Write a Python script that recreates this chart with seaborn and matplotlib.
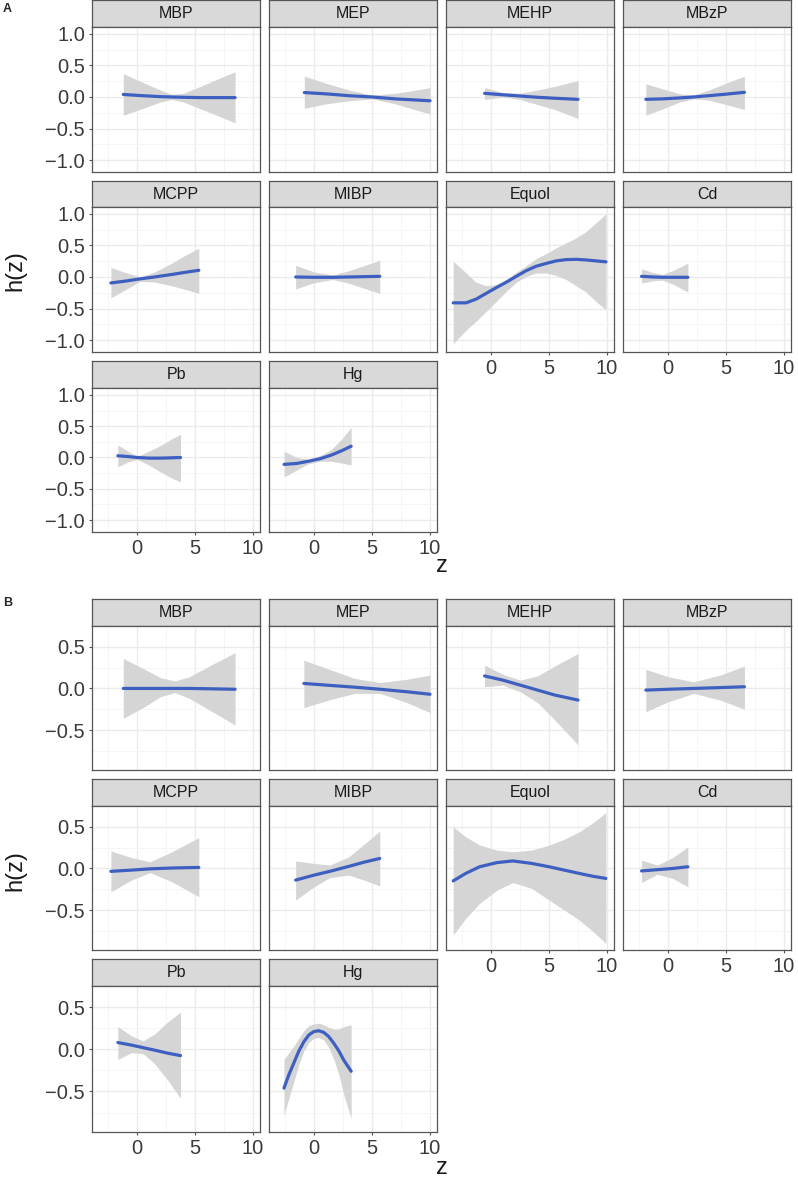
import numpy as np
import pandas as pd
import matplotlib
matplotlib.use("Agg")
import matplotlib.pyplot as plt
import seaborn as sns

# facet names, same order in both panels
exposures = ["MBP", "MEP", "MEHP", "MBzP", "MCPP", "MIBP", "Equol", "Cd", "Pb", "Hg"]
x_ticks = [0, 5, 10]
a_y_ticks = [-1.0, -0.5, 0.0, 0.5, 1.0]
b_y_ticks = [-0.5, 0.0, 0.5]

# ---- panel A : z, h(z), lower and upper limit ----
A_MBP_z = [-1.2, 0.5, 2, 3, 4, 5.5, 7, 8.45]
A_MBP_h = [0.04, 0.02, 0.005, 0.0, -0.005, -0.01, -0.01, -0.01]
A_MBP_lo = [-0.29, -0.18, -0.08, -0.04, -0.08, -0.19, -0.30, -0.41]
A_MBP_hi = [0.37, 0.23, 0.11, 0.04, 0.06, 0.17, 0.29, 0.40]

A_MEP_z = [-0.85, 1, 3, 5, 7, 8.5, 10]
A_MEP_h = [0.07, 0.05, 0.02, 0.0, -0.03, -0.045, -0.06]
A_MEP_lo = [-0.18, -0.11, -0.06, -0.03, -0.11, -0.19, -0.27]
A_MEP_hi = [0.33, 0.22, 0.11, 0.03, 0.06, 0.10, 0.15]

A_MEHP_z = [-0.57, 1, 2.5, 4, 5.5, 7.5]
A_MEHP_h = [0.058, 0.035, 0.015, -0.005, -0.02, -0.037]
A_MEHP_lo = [-0.04, 0.0, -0.04, -0.12, -0.20, -0.34]
A_MEHP_hi = [0.15, 0.07, 0.06, 0.11, 0.17, 0.26]

A_MBzP_z = [-1.93, -0.5, 1, 2.2, 3.5, 5, 6.58]
A_MBzP_h = [-0.037, -0.03, -0.015, 0.0, 0.02, 0.045, 0.074]
A_MBzP_lo = [-0.29, -0.19, -0.08, -0.03, -0.05, -0.12, -0.20]
A_MBzP_hi = [0.21, 0.13, 0.05, 0.03, 0.11, 0.22, 0.33]

A_MCPP_z = [-2.27, -1, 0.25, 1.5, 3, 4, 5.32]
A_MCPP_h = [-0.095, -0.065, -0.03, 0.0, 0.04, 0.07, 0.106]
A_MCPP_lo = [-0.33, -0.20, -0.07, -0.08, -0.14, -0.19, -0.26]
A_MCPP_hi = [0.15, 0.07, 0.0, 0.08, 0.22, 0.33, 0.455]

A_MIBP_z = [-1.6, 0, 1.6, 3, 4.3, 5.66]
A_MIBP_h = [0.0, -0.005, -0.005, 0.0, 0.005, 0.01]
A_MIBP_lo = [-0.19, -0.09, -0.04, -0.10, -0.18, -0.26]
A_MIBP_hi = [0.185, 0.08, 0.03, 0.10, 0.18, 0.265]

A_Equol_z = [-3.28, -2.16, -1.29, -0.43, 0.43, 1.29, 2.16, 3.02, 3.88, 4.74,
             5.60, 6.47, 7.33, 8.19, 9.05, 9.91]
A_Equol_h = [-0.41, -0.41, -0.35, -0.26, -0.17, -0.085, 0.01, 0.10, 0.17, 0.215,
             0.255, 0.275, 0.28, 0.27, 0.255, 0.24]
A_Equol_lo = [-1.06, -0.84, -0.70, -0.545, -0.39, -0.23, -0.085, 0.01, 0.063, 0.063,
              0.026, -0.04, -0.14, -0.24, -0.39, -0.52]
A_Equol_hi = [0.25, 0.063, -0.085, -0.14, -0.12, -0.04, 0.074, 0.18, 0.29, 0.37,
              0.46, 0.54, 0.62, 0.72, 0.86, 1.0]

A_Cd_z = [-2.3, -1.3, -0.5, 0.5, 1.7]
A_Cd_h = [0.01, 0.0, -0.005, -0.005, -0.005]
A_Cd_lo = [-0.095, -0.06, -0.05, -0.12, -0.24]
A_Cd_hi = [0.13, 0.07, 0.04, 0.11, 0.22]

A_Pb_z = [-1.67, -0.8, 0, 1, 2, 3, 3.74]
A_Pb_h = [0.027, 0.015, 0.0, -0.01, -0.01, -0.005, 0.0]
A_Pb_lo = [-0.15, -0.07, -0.03, -0.12, -0.23, -0.33, -0.39]
A_Pb_hi = [0.20, 0.10, 0.02, 0.10, 0.19, 0.30, 0.37]

A_Hg_z = [-2.6, -1.5, -0.5, 0.5, 1.5, 2.4, 3.19]
A_Hg_h = [-0.11, -0.095, -0.06, -0.02, 0.04, 0.11, 0.18]
A_Hg_lo = [-0.31, -0.20, -0.10, -0.06, -0.06, -0.09, -0.12]
A_Hg_hi = [0.10, 0.0, -0.03, 0.03, 0.13, 0.30, 0.48]

# ---- panel B ----
B_MBP_z = [-1.2, 0.5, 2, 3.25, 4.5, 6.5, 8.45]
B_MBP_h = [0.0, 0.0, 0.0, 0.0, 0.0, -0.005, -0.01]
B_MBP_lo = [-0.36, -0.23, -0.10, -0.05, -0.12, -0.28, -0.44]
B_MBP_hi = [0.36, 0.24, 0.13, 0.09, 0.14, 0.29, 0.43]

B_MEP_z = [-0.89, 1.5, 3.5, 5.7, 8, 10]
B_MEP_h = [0.06, 0.035, 0.015, -0.01, -0.04, -0.07]
B_MEP_lo = [-0.23, -0.13, -0.06, -0.06, -0.17, -0.29]
B_MEP_hi = [0.34, 0.22, 0.12, 0.07, 0.11, 0.16]

B_MEHP_z = [-0.57, 1, 2.5, 4, 5.5, 7.5]
B_MEHP_h = [0.15, 0.10, 0.04, -0.02, -0.08, -0.14]
B_MEHP_lo = [0.02, 0.04, -0.04, -0.17, -0.38, -0.68]
B_MEHP_hi = [0.28, 0.17, 0.10, 0.15, 0.27, 0.42]

B_MBzP_z = [-1.93, 0, 2.2, 4.5, 6.58]
B_MBzP_h = [-0.02, -0.01, 0.0, 0.01, 0.02]
B_MBzP_lo = [-0.28, -0.16, -0.06, -0.14, -0.25]
B_MBzP_hi = [0.23, 0.14, 0.08, 0.16, 0.27]

B_MCPP_z = [-2.27, -0.5, 1.1, 3, 5.32]
B_MCPP_h = [-0.035, -0.02, -0.005, 0.005, 0.012]
B_MCPP_lo = [-0.28, -0.14, -0.05, -0.16, -0.34]
B_MCPP_hi = [0.21, 0.13, 0.08, 0.20, 0.37]

B_MIBP_z = [-1.6, 0, 1.35, 3, 4.3, 5.66]
B_MIBP_h = [-0.14, -0.08, -0.035, 0.025, 0.075, 0.12]
B_MIBP_lo = [-0.38, -0.22, -0.11, -0.08, -0.14, -0.21]
B_MIBP_hi = [0.09, 0.06, 0.04, 0.14, 0.29, 0.45]

B_Equol_z = [-3.28, -2.2, -1, 0.5, 1.87, 3.5, 5, 6.3, 7.6, 8.8, 9.9]
B_Equol_h = [-0.15, -0.06, 0.02, 0.07, 0.09, 0.06, 0.02, -0.02, -0.06, -0.095, -0.12]
B_Equol_lo = [-0.80, -0.60, -0.42, -0.26, -0.17, -0.24, -0.38, -0.50, -0.62, -0.76, -0.90]
B_Equol_hi = [0.50, 0.38, 0.28, 0.22, 0.20, 0.22, 0.28, 0.35, 0.44, 0.55, 0.67]

B_Cd_z = [-2.3, -0.95, 0.4, 1.7]
B_Cd_h = [-0.03, -0.015, 0.0, 0.02]
B_Cd_lo = [-0.17, -0.07, -0.12, -0.22]
B_Cd_hi = [0.10, 0.04, 0.13, 0.26]

B_Pb_z = [-1.67, -0.5, 0.5, 1.5, 2.6, 3.74]
B_Pb_h = [0.08, 0.05, 0.02, -0.01, -0.045, -0.075]
B_Pb_lo = [-0.12, -0.04, -0.05, -0.17, -0.36, -0.58]
B_Pb_hi = [0.27, 0.16, 0.10, 0.18, 0.32, 0.44]

B_Hg_z = [-2.61, -2.18, -1.75, -1.32, -0.89, -0.46, -0.03, 0.40, 0.83, 1.26,
          1.70, 2.13, 2.56, 3.19]
B_Hg_h = [-0.46, -0.30, -0.16, -0.02, 0.09, 0.17, 0.21, 0.22, 0.20, 0.15,
          0.07, -0.02, -0.13, -0.26]
B_Hg_lo = [-0.78, -0.58, -0.38, -0.18, -0.02, 0.08, 0.13, 0.14, 0.11, 0.02,
           -0.12, -0.30, -0.54, -0.82]
B_Hg_hi = [-0.12, -0.04, 0.04, 0.13, 0.22, 0.28, 0.30, 0.31, 0.29, 0.26,
           0.24, 0.24, 0.27, 0.29]

# long table from the lists above
rows = []
for panel in ["A", "B"]:
    for e in exposures:
        zz = globals()[f"{panel}_{e}_z"]
        hh = globals()[f"{panel}_{e}_h"]
        lo = globals()[f"{panel}_{e}_lo"]
        hi = globals()[f"{panel}_{e}_hi"]
        for a, b, c, d in zip(zz, hh, lo, hi):
            rows.append((panel, e, a, b, c, d))
df = pd.DataFrame(rows, columns=["panel", "exposure", "z", "h", "lo", "hi"])

sns.set_style("white")
plt.rcParams["font.family"] = ["Liberation Sans", "DejaVu Sans"]

W, H = 798, 1180
fig = plt.figure(figsize=(W / 100, H / 100), dpi=100)

def px_axes(x0, y0, w, h):
    return fig.add_axes([x0 / W, 1 - (y0 + h) / H, w / W, h / H])

LINE = "#3D5FC0"
RIBBON = "#D5D5D5"
BORDER = "#555555"
TXT = "#3a3a3a"

col_left = [92, 269, 446, 623]
col_w = 168
# (strip top, plot top, plot bottom) in pixels
layout = {
    "A": [(0, 27, 172), (181, 207, 352), (361, 388, 532)],
    "B": [(599, 626, 770), (779, 806, 950), (959, 986, 1132)],
}
ylims = {"A": (-1.19, 1.11), "B": (-0.98, 0.75)}
yticks = {"A": a_y_ticks, "B": b_y_ticks}

def fmt(v):
    return f"{v:.1f}".replace("-", "\u2212")

for panel in ["A", "B"]:
    for i, e in enumerate(exposures):
        r, c = divmod(i, 4)
        st, pt, pb = layout[panel][r]
        x0 = col_left[c]

        # strip
        s = px_axes(x0, st, col_w, pt - st)
        s.set_facecolor("#D9D9D9")
        s.set_xticks([]); s.set_yticks([])
        for sp in s.spines.values():
            sp.set_color(BORDER); sp.set_linewidth(0.9)
        s.text(0.5, 0.5, e, ha="center", va="center", fontsize=11.5, color="#1a1a1a",
               transform=s.transAxes)

        ax = px_axes(x0, pt, col_w, pb - pt)
        sub = df[(df.panel == panel) & (df.exposure == e)].sort_values("z")
        ax.fill_between(sub["z"], sub["lo"], sub["hi"], color=RIBBON, lw=0, zorder=1)
        sns.lineplot(data=sub, x="z", y="h", ax=ax, color=LINE, linewidth=2.3,
                     estimator=None, sort=True, zorder=3)
        ax.set_xlabel(""); ax.set_ylabel("")
        ax.set_xlim(-3.9, 10.6)
        ax.set_ylim(*ylims[panel])
        ax.set_xticks(x_ticks)
        ax.set_xticks([-2.5, 2.5, 7.5], minor=True)
        yt = yticks[panel]
        ax.set_yticks(yt)
        ax.set_yticks([-0.75, -0.25, 0.25, 0.75] if panel == "A" else [-0.75, -0.25, 0.25], minor=True)
        ax.set_yticklabels([fmt(v) for v in yt])
        ax.set_xticklabels([str(v) for v in x_ticks])
        ax.set_axisbelow(True)
        ax.grid(which="major", color="#EBEBEB", lw=1.0)
        ax.grid(which="minor", color="#F4F4F4", lw=0.6)
        for sp in ax.spines.values():
            sp.set_color(BORDER); sp.set_linewidth(0.9)

        is_left = c == 0
        is_bottom = (r == 2) or (r == 1 and c >= 2)
        ax.tick_params(which="major", length=2.5, width=0.8, color=BORDER, pad=2.5,
                       labelsize=14.5, labelcolor=TXT,
                       left=is_left, labelleft=is_left,
                       bottom=is_bottom, labelbottom=is_bottom)
        ax.tick_params(which="minor", length=0)

# panel letters and axis titles
fig.text(3 / W, 1 - 9 / H, "A", fontsize=9, fontweight="bold", va="center", ha="left")
fig.text(3 / W, 1 - 603 / H, "B", fontsize=9, fontweight="bold", va="center", ha="left")
fig.text(15 / W, 1 - 271 / H, "h(z)", rotation=90, fontsize=17, color="#1a1a1a",
         ha="center", va="center")
fig.text(15 / W, 1 - 871 / H, "h(z)", rotation=90, fontsize=17, color="#1a1a1a",
         ha="center", va="center")
fig.text(442 / W, 1 - 566 / H, "z", fontsize=17, color="#1a1a1a", ha="center", va="center")
fig.text(442 / W, 1 - 1168 / H, "z", fontsize=17, color="#1a1a1a", ha="center", va="center")

fig.savefig("out.png", dpi=100)
